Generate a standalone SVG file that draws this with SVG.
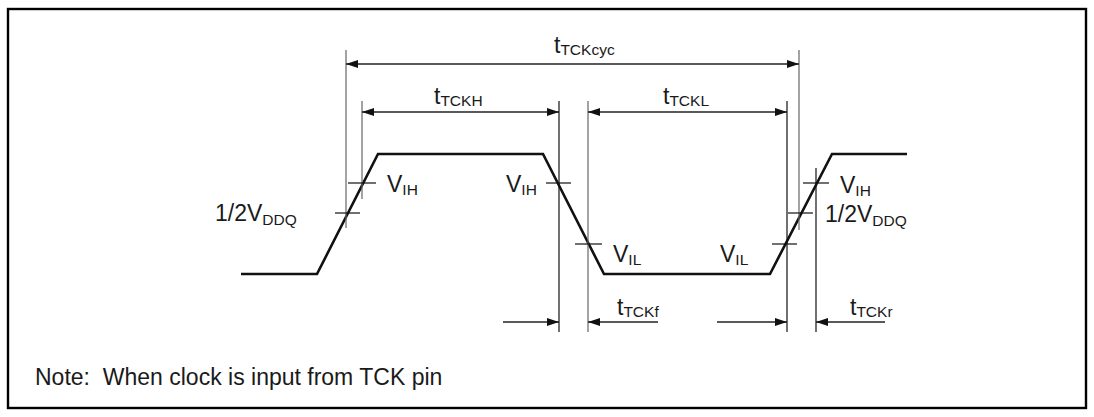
<svg xmlns="http://www.w3.org/2000/svg" width="1094" height="417" viewBox="0 0 1094 417">
<style>
text{font-family:"Liberation Sans",Arial,sans-serif;font-size:23px;fill:#1a1a1a}
.sub{font-size:15.5px}
.pre{white-space:pre}
.wave{fill:none;stroke:#111;stroke-width:2.6;stroke-linejoin:miter}
.ext{stroke:#666;stroke-width:1.2;fill:none}
.extd{stroke:#111;stroke-width:1.2;fill:none}
.tick{stroke:#111;stroke-width:1.2;fill:none}
.dim{stroke:#222;stroke-width:1.3;fill:none}
</style>
<defs>
<marker id="ah" viewBox="0 0 12 8" refX="12" refY="4" markerWidth="12" markerHeight="8" markerUnits="userSpaceOnUse" orient="auto-start-reverse">
<path d="M0,0 L12,4 L0,8 Z" fill="#111"/>
</marker>
</defs>
<rect id="frame" x="8" y="9" width="1078" height="399" fill="#fff" stroke="#000" stroke-width="2.4"/>
<g id="waveform">
<path class="wave" d="M241,274 L317,274 L378,154 L543,154 L604,274 L770,274 L832,154 L907,154"/>
</g>
<g id="connectors">
<line class="ext" x1="346" y1="50" x2="346" y2="228"/>
<line class="ext" x1="362" y1="101" x2="362" y2="199"/>
<line class="extd" x1="559" y1="101" x2="559" y2="332"/>
<line class="ext" x1="588" y1="101" x2="588" y2="332"/>
<line class="extd" x1="787" y1="101" x2="787" y2="332"/>
<line class="ext" x1="799" y1="50" x2="799" y2="230"/>
<line class="extd" x1="816" y1="168" x2="816" y2="332"/>
<line class="tick" x1="335" y1="213" x2="360" y2="213"/>
<line class="tick" x1="348" y1="183" x2="376" y2="183"/>
<line class="tick" x1="546" y1="183" x2="571" y2="183"/>
<line class="tick" x1="575" y1="244" x2="602" y2="244"/>
<line class="tick" x1="772" y1="244" x2="797" y2="244"/>
<line class="tick" x1="788" y1="213" x2="813" y2="213"/>
<line class="tick" x1="803" y1="183" x2="829" y2="183"/>
<line class="dim" x1="346" y1="64" x2="799" y2="64" marker-start="url(#ah)" marker-end="url(#ah)"/>
<line class="dim" x1="362" y1="112" x2="559" y2="112" marker-start="url(#ah)" marker-end="url(#ah)"/>
<line class="dim" x1="588" y1="112" x2="787" y2="112" marker-start="url(#ah)" marker-end="url(#ah)"/>
<line class="dim" x1="503" y1="322" x2="559" y2="322" marker-end="url(#ah)"/>
<line class="dim" x1="658" y1="322" x2="588" y2="322" marker-end="url(#ah)"/>
<line class="dim" x1="717" y1="322" x2="787" y2="322" marker-end="url(#ah)"/>
<line class="dim" x1="885" y1="322" x2="816" y2="322" marker-end="url(#ah)"/>
</g>
<g id="label-tTCKcyc"><text x="554" y="53">t<tspan class="sub" y="55">TCKcyc</tspan></text></g>
<g id="label-tTCKH"><text x="434" y="104">t<tspan class="sub" y="106">TCKH</tspan></text></g>
<g id="label-tTCKL"><text x="663" y="104">t<tspan class="sub" y="106">TCKL</tspan></text></g>
<g id="label-VIH-1"><text x="387" y="192">V<tspan class="sub" y="195">IH</tspan></text></g>
<g id="label-VDDQ-1"><text x="215" y="221">1/2V<tspan class="sub" y="225">DDQ</tspan></text></g>
<g id="label-VIH-2"><text x="506" y="192">V<tspan class="sub" y="195">IH</tspan></text></g>
<g id="label-VIL-1"><text x="613" y="262">V<tspan class="sub" y="265">IL</tspan></text></g>
<g id="label-VIL-2"><text x="720" y="262">V<tspan class="sub" y="265">IL</tspan></text></g>
<g id="label-VIH-3"><text x="840" y="193">V<tspan class="sub" y="196">IH</tspan></text></g>
<g id="label-VDDQ-2"><text x="825" y="222">1/2V<tspan class="sub" y="226">DDQ</tspan></text></g>
<g id="label-tTCKf"><text x="617" y="315">t<tspan class="sub" y="317">TCKf</tspan></text></g>
<g id="label-tTCKr"><text x="850" y="315">t<tspan class="sub" y="317">TCKr</tspan></text></g>
<g id="note"><text class="pre" xml:space="preserve" x="35" y="385">Note:  When clock is input from TCK pin</text></g>
</svg>
